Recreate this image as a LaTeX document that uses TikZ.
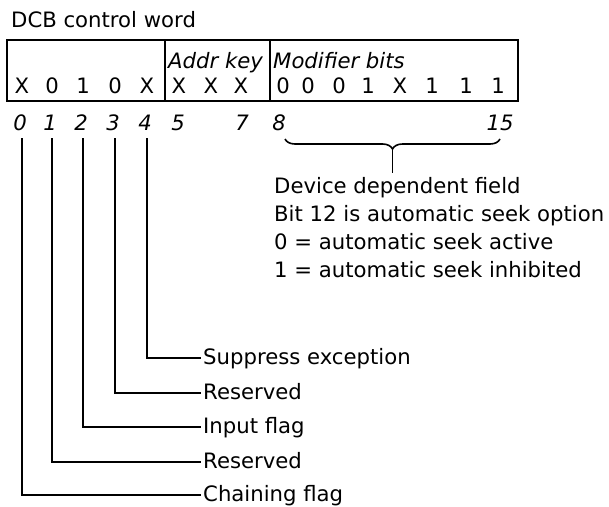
\documentclass[tikz,border=0pt]{standalone}
\usepackage{fontspec}
\setmainfont{DejaVu Sans}
\usepackage{tikz}
\usetikzlibrary{positioning,decorations.pathreplacing}

\begin{document}
\begin{tikzpicture}[x=1pt,y=-1pt,
  txt/.style={font=\fontsize{21.2}{24}\selectfont, inner sep=0pt, anchor=base west},
  hdr/.style={txt, font=\fontsize{21.2}{24}\selectfont\itshape},
  bitval/.style={font=\fontsize{21.2}{24}\selectfont, inner sep=0pt, anchor=base},
  bitno/.style={font=\fontsize{21.2}{24}\selectfont\itshape, inner sep=0pt, anchor=base},
  lead/.style={line width=1.6pt},
  frame/.style={line width=1.8pt}
]
\useasboundingbox (0,0) rectangle (609,506);

\node[txt] (title) at (11,27) {DCB control word};

% the control word
\draw[frame] (7,40) rectangle (518,101);
\draw[frame] (165,40) -- (165,101);
\draw[frame] (270,40) -- (270,101);

\node[hdr] (haddr) at (168,68) {Addr key};
\node[hdr] (hmod)  at (273,68) {Modifier bits};

\foreach \x/\v [count=\k from 0] in {22/X,52/0,83/1,115/0,147/X,179/X,211/X,241/X,
                                       283/0,308/0,339/0,368/1,400/X,432/1,466/1,498/1}
  \node[bitval] (v\k) at (\x,93) {\v};

% bit numbers
\foreach \x/\n in {20/0,50/1,81/2,113/3,145/4,178/5,242/7,279/8,500/15}
  \node[bitno] (b\n) at (\x,130) {\n};

% leads for bits 0-4
\foreach \i/\x/\y/\t in {0/22/495/Chaining flag,1/52/462/Reserved,2/83/427/Input flag,
                         3/115/393/Reserved,4/147/358/Suppress exception}{
  \coordinate (top\i) at (\x,138);
  \node[txt] (l\i) at (203,\y+6) {\t};
  \draw[lead] (top\i) |- ([xshift=-2pt,yshift=6pt]l\i.base west);
}

% device dependent field
\coordinate (brl) at (285,139);
\coordinate (brr) at (500,139);
\draw[lead, decorate, decoration={brace, mirror, amplitude=10pt, aspect=0.5}]
  (brl) -- (brr);
\coordinate (brtip) at (392.5,150);

\node[txt] (dev)   at (274,193) {Device dependent field};
\node[txt] (bit12) at (274,221) {Bit 12 is automatic seek option};
\node[txt] (act)   at (274,249) {0 = automatic seek active};
\node[txt] (inh)   at (274,277) {1 = automatic seek inhibited};

\draw[lead] (brtip) -- ([yshift=4pt]dev.north -| brtip);

\end{tikzpicture}
\end{document}
